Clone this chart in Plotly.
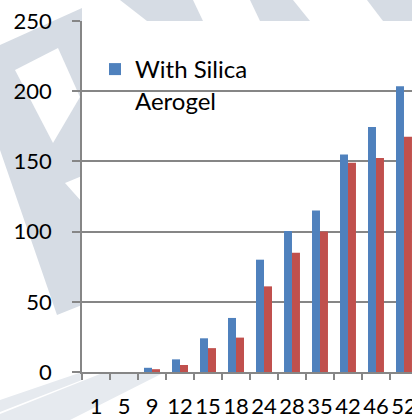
import plotly.graph_objects as go

categories = ["1", "5", "9", "12", "15", "18", "24", "28", "35", "42", "46", "52"]
with_aerogel = [0, 0, 3, 9, 24, 38.5, 80, 100.5, 115, 155, 174.5, 203.5]
without_aerogel = [0, 0, 2, 5, 17, 24.5, 61, 85, 100, 149, 152.5, 167.5]
y_ticks = [0, 50, 100, 150, 200, 250]

W, H = 412, 420
L, T, B, R = 82, 21, 48, 0
PW, PH = W - L - R, H - T - B


def px(x, y):
    return (x - L) / PW, (H - B - y) / PH


def poly(points, color):
    pts = [px(x, y) for x, y in points]
    path = "M" + " L".join(f"{a:.4f},{b:.4f}" for a, b in pts) + " Z"
    return dict(type="path", path=path, xref="paper", yref="paper",
                fillcolor=color, line=dict(width=0), layer="below")


wm = "#d6dce4"
wm_light = "#e6eaef"
shapes = [
    poly([(0, 45), (82, 8), (82, 305), (57, 315), (0, 150)], wm),
    poly([(15, 70), (58, 48), (80, 97), (53, 143)], "white"),
    poly([(65, 183), (82, 176), (82, 202)], "white"),
    poly([(120, 0), (193, 0), (203, 21), (147, 21)], wm),
    poly([(250, 0), (293, 0), (310, 21), (260, 21)], wm),
    poly([(367, 0), (412, 0), (412, 21), (383, 21)], wm),
    poly([(0, 400), (82, 372), (82, 380), (0, 412)], wm_light),
    poly([(0, 420), (70, 420), (165, 372), (105, 372), (0, 414)], wm_light),
]

fig = go.Figure()
fig.add_trace(go.Bar(x=categories, y=with_aerogel, name="With Silica<br>Aerogel",
                     marker=dict(color="#4f81bd", line=dict(width=0))))
fig.add_trace(go.Bar(x=categories, y=without_aerogel, name="Without Silica Aerogel",
                     marker=dict(color="#c0504d", line=dict(width=0)), showlegend=False))

font = dict(family="Lato", size=22, color="black")
legend_font = dict(family="Lato", size=24, color="black")
fig.update_layout(
    width=W, height=H,
    margin=dict(l=L, r=R, t=T, b=B, autoexpand=False),
    paper_bgcolor="white", plot_bgcolor="white",
    barmode="group", bargap=0.43, bargroupgap=0,
    font=font,
    shapes=shapes,
    legend=dict(x=(95 - L) / PW, y=px(0, 47)[1], xanchor="left", yanchor="top",
                bgcolor="rgba(0,0,0,0)", valign="top", font=legend_font),
    showlegend=True,
)
fig.update_xaxes(type="category", range=[-0.5, 11.286], showgrid=False,
                 showline=True, linecolor="#868686", linewidth=1.8,
                 ticks="outside", tickson="boundaries", ticklen=6, tickcolor="#868686",
                 tickwidth=1.8, tickangle=0, ticklabelstandoff=14, tickfont=font)
fig.update_yaxes(range=[0, 250], tickvals=y_ticks, showgrid=True, gridcolor="#868686",
                 gridwidth=1.6, showline=True, linecolor="#868686", linewidth=1.8,
                 ticks="outside", ticklen=8, tickcolor="#868686", tickwidth=1.8,
                 ticklabelstandoff=16, zeroline=False, tickfont=font)

fig.write_html("out.html", config={"displayModeBar": False},
               post_script="document.body.style.margin='0';")
